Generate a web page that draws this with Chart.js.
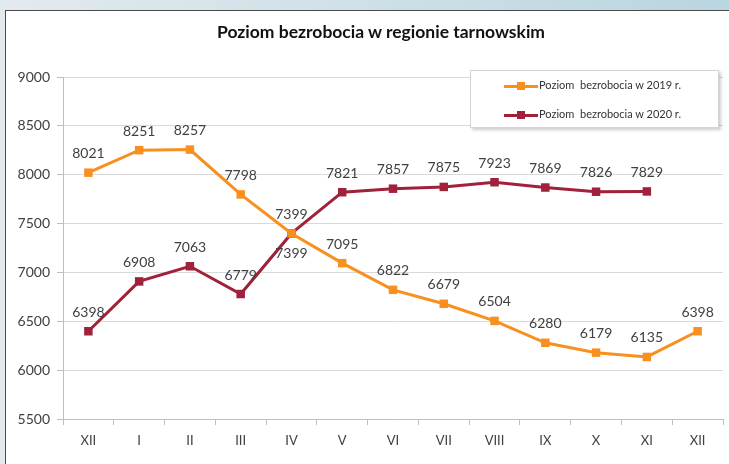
<!DOCTYPE html>
<html>
<head>
<meta charset="utf-8">
<script src="https://cdn.jsdelivr.net/npm/chart.js@4"></script>
<style>
  body {
    margin: 0;
    width: 729px;
    height: 464px;
    overflow: hidden;
    position: relative;
    background: linear-gradient(90deg, #e2eaef 0%, #cfe0e7 50%, #b9d5df 100%);
    font-family: Lato, sans-serif;
  }
  #panel {
    position: absolute;
    left: 5px;
    top: 10px;
    width: 724px;
    height: 454px;
    background: #fff;
    border-left: 1px solid #4a4a4a;
    border-top: 1px solid #4a4a4a;
  }
  #chart {
    position: absolute;
    left: 0;
    top: 0;
  }
  #title {
    position: absolute;
    left: 0;
    top: 10px;
    width: 750px;
    text-align: center;
    font-size: 17.5px;
    font-weight: bold;
    color: #111;
  }
  #legend {
    position: absolute;
    left: 464px;
    top: 59px;
    width: 247px;
    height: 56px;
    background: #fff;
    border: 1px solid #d4d4d4;
    box-shadow: 2px 2px 3px rgba(0, 0, 0, 0.2);
  }
  .item {
    position: absolute;
    left: 33px;
    height: 12px;
    font-size: 11px;
    color: #333;
    white-space: pre;
  }
  .swatch {
    position: absolute;
    left: 0;
    top: 6px;
    width: 34px;
    height: 3px;
  }
  .swatch span {
    position: absolute;
    left: 13px;
    top: -3px;
    width: 8px;
    height: 8px;
  }
  .item .txt {
    position: absolute;
    left: 35px;
    top: -1px;
  }
</style>
</head>
<body>
<div id="panel">
  <canvas id="chart" width="723" height="453"></canvas>
  <div id="title">Poziom bezrobocia w regionie tarnowskim</div>
  <div id="legend"></div>
</div>
<script>
'use strict';

const months = ['XII', 'I', 'II', 'III', 'IV', 'V', 'VI', 'VII', 'VIII', 'IX', 'X', 'XI', 'XII'];
const values2019 = [8021, 8251, 8257, 7798, 7399, 7095, 6822, 6679, 6504, 6280, 6179, 6135, 6398];
const values2020 = [6398, 6908, 7063, 6779, 7399, 7821, 7857, 7875, 7923, 7869, 7826, 7829, null];
const yTicks = [5500, 6000, 6500, 7000, 7500, 8000, 8500, 9000];

const label2019 = 'Poziom  bezrobocia w 2019 r.';
const label2020 = 'Poziom  bezrobocia w 2020 r.';
const orange = '#f7901e';
const darkRed = '#a0213a';

// labels that sit under their point instead of above
const labelsBelow = { 0: [4], 1: [] };

// html legend, same look as the excel box
function buildLegend() {
  let box = document.getElementById('legend');
  let rows = [[label2019, orange, 8], [label2020, darkRed, 37]];
  for (let i = 0; i < rows.length; i++) {
    let item = document.createElement('div');
    item.className = 'item';
    item.style.top = rows[i][2] + 'px';
    let sw = document.createElement('div');
    sw.className = 'swatch';
    sw.style.background = rows[i][1];
    let sq = document.createElement('span');
    sq.style.background = rows[i][1];
    sw.appendChild(sq);
    let txt = document.createElement('span');
    txt.className = 'txt';
    txt.textContent = rows[i][0];
    item.appendChild(sw);
    item.appendChild(txt);
    box.appendChild(item);
  }
}

const valueLabels = {
  id: 'valueLabels',
  afterDatasetsDraw(chart) {
    let ctx = chart.ctx;
    ctx.save();
    ctx.font = '14px Lato, sans-serif';
    ctx.fillStyle = '#404040';
    ctx.textAlign = 'center';
    ctx.textBaseline = 'middle';
    chart.data.datasets.forEach(function (ds, di) {
      let meta = chart.getDatasetMeta(di);
      meta.data.forEach(function (pt, i) {
        let v = ds.data[i];
        if (v === null || v === undefined) {
          return;
        }
        let dy = labelsBelow[di].includes(i) ? 20 : -19;
        ctx.fillText(String(v), pt.x, pt.y + dy);
      });
    });
    ctx.restore();
  }
};

buildLegend();

let chartCanvas = document.getElementById('chart').getContext('2d');
const myChart = new Chart(chartCanvas, {
  type: 'line',
  data: {
    labels: months,
    datasets: [
      {
        label: label2019,
        data: values2019,
        borderColor: orange,
        backgroundColor: orange,
        borderWidth: 3,
        pointStyle: 'rect',
        pointRadius: 6,
        pointBorderWidth: 0,
        tension: 0
      },
      {
        label: label2020,
        data: values2020,
        borderColor: darkRed,
        backgroundColor: darkRed,
        borderWidth: 3,
        pointStyle: 'rect',
        pointRadius: 6,
        pointBorderWidth: 0,
        tension: 0
      }
    ]
  },
  options: {
    responsive: false,
    animation: false,
    layout: {
      padding: { left: 0, right: 0, top: 66, bottom: 0 }
    },
    plugins: {
      legend: { display: false },
      tooltip: { enabled: false },
      title: { display: false }
    },
    scales: {
      x: {
        offset: true,
        grid: {
          offset: true,
          drawOnChartArea: false,
          drawTicks: true,
          tickLength: 6,
          color: '#bfbfbf'
        },
        border: { color: '#bfbfbf', width: 1 },
        ticks: {
          color: '#404040',
          font: { family: 'Lato, sans-serif', size: 13 },
          padding: 8,
          maxRotation: 0,
          autoSkip: false
        },
        afterFit(scale) {
          scale.height = 45;
        }
      },
      y: {
        min: yTicks[0],
        max: yTicks[yTicks.length - 1],
        afterBuildTicks(scale) {
          scale.ticks = yTicks.map(function (v) { return { value: v }; });
        },
        grid: {
          color: '#d9d9d9',
          tickLength: 6,
          tickColor: '#bfbfbf'
        },
        border: { color: '#bfbfbf', width: 1 },
        ticks: {
          color: '#404040',
          font: { family: 'Lato, sans-serif', size: 14 },
          padding: 7,
          callback: function (value) {
            return String(value);
          }
        },
        afterFit(scale) {
          scale.width = 57;
        }
      }
    }
  },
  plugins: [valueLabels]
});
</script>
</body>
</html>
